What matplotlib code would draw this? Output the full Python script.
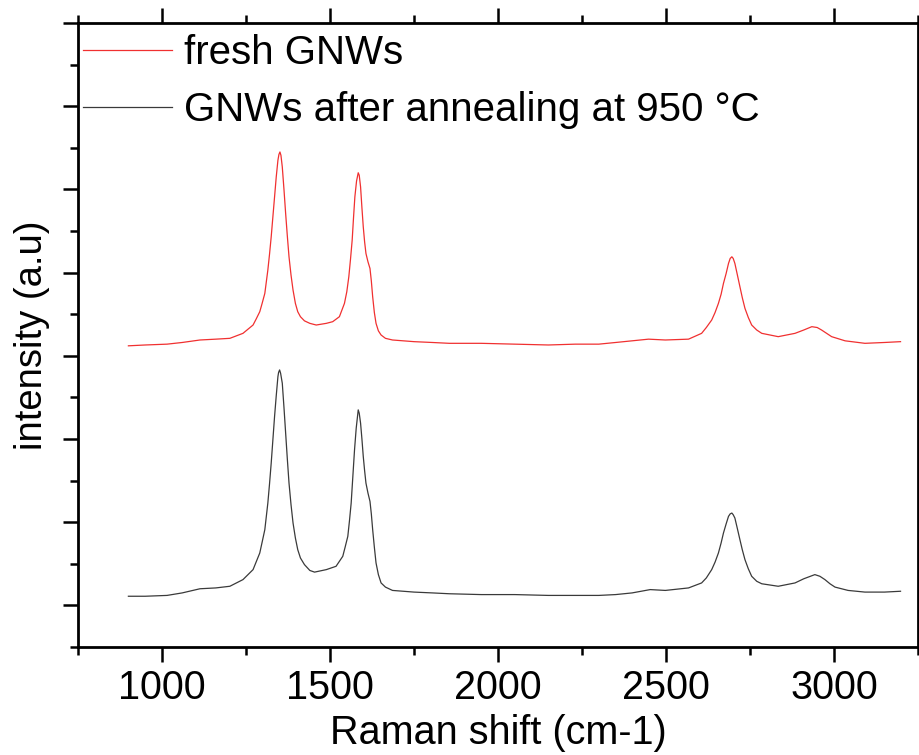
import matplotlib
matplotlib.use("Agg")
import matplotlib.pyplot as plt
from matplotlib.ticker import MultipleLocator, NullFormatter

plt.rcParams['font.family'] = ['Liberation Sans', 'DejaVu Sans']

# Raman shift (cm-1) and intensity (a.u.) for the fresh sample
fresh_shift = [900, 950, 1015, 1060, 1113, 1160, 1202, 1241, 1271, 1280, 1291, 1298,
               1306, 1315, 1320, 1325, 1330, 1335, 1340, 1345, 1348, 1351, 1354, 1358,
               1363, 1368, 1373, 1378, 1384, 1390, 1397, 1404, 1412, 1424, 1440, 1459,
               1489, 1508, 1528, 1543, 1550, 1556, 1561, 1566, 1570, 1574, 1579, 1584,
               1587, 1591, 1595, 1599, 1603, 1607, 1613, 1619, 1623, 1627, 1632, 1637,
               1644, 1652, 1665, 1686, 1750, 1805, 1855, 1950, 2050, 2150, 2230, 2300,
               2350, 2399, 2448, 2498, 2567, 2606, 2620, 2636, 2646, 2656, 2664, 2671,
               2679, 2686, 2691, 2696, 2700, 2705, 2712, 2720, 2727, 2735, 2745, 2755,
               2770, 2785, 2834, 2884, 2910, 2934, 2950, 2963, 2978, 2993, 3033, 3092,
               3150, 3198]
fresh_int = [3.12, 3.13, 3.14, 3.16, 3.19, 3.20, 3.21, 3.27, 3.37, 3.44, 3.53, 3.63,
             3.75, 4.03, 4.22, 4.43, 4.67, 4.91, 5.15, 5.35, 5.42, 5.45, 5.41, 5.27,
             5.00, 4.71, 4.44, 4.19, 3.97, 3.79, 3.63, 3.53, 3.47, 3.42, 3.39, 3.37,
             3.39, 3.41, 3.47, 3.63, 3.77, 3.95, 4.16, 4.39, 4.66, 4.91, 5.10, 5.20,
             5.17, 5.03, 4.78, 4.55, 4.37, 4.23, 4.13, 4.05, 3.90, 3.71, 3.52, 3.39,
             3.30, 3.25, 3.21, 3.19, 3.17, 3.16, 3.15, 3.15, 3.14, 3.13, 3.14, 3.14,
             3.16, 3.18, 3.20, 3.19, 3.20, 3.27, 3.34, 3.43, 3.52, 3.63, 3.74, 3.87,
             3.99, 4.11, 4.17, 4.19, 4.17, 4.11, 3.98, 3.83, 3.70, 3.57, 3.46, 3.37,
             3.31, 3.27, 3.23, 3.27, 3.31, 3.35, 3.34, 3.31, 3.27, 3.23, 3.18, 3.15,
             3.16, 3.17]

# Raman shift (cm-1) and intensity (a.u.) after annealing at 950 °C
annealed_shift = [900, 950, 1015, 1060, 1113, 1160, 1202, 1241, 1271, 1280, 1291, 1298,
                  1306, 1315, 1320, 1325, 1330, 1335, 1340, 1345, 1347, 1350, 1353, 1358,
                  1363, 1368, 1373, 1378, 1384, 1390, 1397, 1404, 1412, 1424, 1440, 1454,
                  1489, 1518, 1538, 1545, 1553, 1558, 1563, 1568, 1573, 1578, 1584, 1587,
                  1591, 1595, 1599, 1603, 1607, 1613, 1619, 1623, 1627, 1632, 1637, 1644,
                  1652, 1665, 1686, 1750, 1805, 1855, 1950, 2050, 2150, 2230, 2300, 2350,
                  2399, 2453, 2498, 2567, 2606, 2620, 2636, 2646, 2656, 2664, 2671, 2679,
                  2686, 2691, 2696, 2700, 2705, 2712, 2720, 2727, 2735, 2745, 2755, 2770,
                  2785, 2834, 2884, 2910, 2943, 2958, 2973, 2988, 3003, 3042, 3092, 3150,
                  3198]
annealed_int = [0.11, 0.11, 0.12, 0.15, 0.20, 0.21, 0.23, 0.31, 0.43, 0.52, 0.63, 0.76,
                0.91, 1.23, 1.46, 1.71, 1.99, 2.27, 2.52, 2.75, 2.80, 2.83, 2.79, 2.67,
                2.38, 2.07, 1.76, 1.47, 1.21, 0.99, 0.81, 0.67, 0.57, 0.49, 0.42, 0.40,
                0.43, 0.47, 0.59, 0.70, 0.83, 1.02, 1.23, 1.55, 1.87, 2.13, 2.35, 2.31,
                2.19, 2.00, 1.79, 1.62, 1.47, 1.35, 1.25, 1.10, 0.91, 0.70, 0.51, 0.37,
                0.27, 0.22, 0.18, 0.16, 0.15, 0.14, 0.13, 0.13, 0.12, 0.12, 0.12, 0.13,
                0.15, 0.19, 0.18, 0.21, 0.27, 0.33, 0.43, 0.52, 0.63, 0.75, 0.87, 0.98,
                1.07, 1.10, 1.11, 1.09, 1.05, 0.93, 0.79, 0.67, 0.55, 0.44, 0.35, 0.29,
                0.26, 0.23, 0.27, 0.32, 0.37, 0.35, 0.31, 0.26, 0.22, 0.18, 0.16, 0.16,
                0.17]

labels = ["fresh GNWs", "GNWs after annealing at 950 \u00b0C"]
xticks = [1000, 1500, 2000, 2500, 3000]

fig = plt.figure(figsize=(9.2, 7.55), dpi=100)
ax = fig.add_axes([78 / 920, 1 - 647 / 755, 840 / 920, 624 / 755])

ax.plot(fresh_shift, fresh_int, color='#f03030', lw=0.9, label=labels[0])
ax.plot(annealed_shift, annealed_int, color='#3a3a3a', lw=0.9, label=labels[1])

ax.set_xlim(750, 3250)
ax.set_ylim(-0.5, 7.0)
ax.set_xticks(xticks)
ax.xaxis.set_minor_locator(MultipleLocator(250))
ax.yaxis.set_major_locator(MultipleLocator(1))
ax.yaxis.set_minor_locator(MultipleLocator(0.5))
ax.yaxis.set_major_formatter(NullFormatter())

for sp in ax.spines.values():
    sp.set_linewidth(2.0)
ax.tick_params(which='both', direction='out', top=True, right=True, width=1.8,
               labelsize=28.5, pad=5)
ax.tick_params(which='major', length=11)
ax.tick_params(which='minor', length=6)

ax.set_xlabel("Raman shift (cm-1)", fontsize=28.5, labelpad=5)
ax.set_ylabel("intensity (a.u)", fontsize=27.5, labelpad=4)

leg = ax.legend(loc='upper left', bbox_to_anchor=(0.006, 0.982), frameon=False,
                fontsize=29, handlelength=2.2, handletextpad=0.3,
                labelspacing=0.47, borderpad=0, borderaxespad=0)

fig.savefig("out.png", dpi=100)
